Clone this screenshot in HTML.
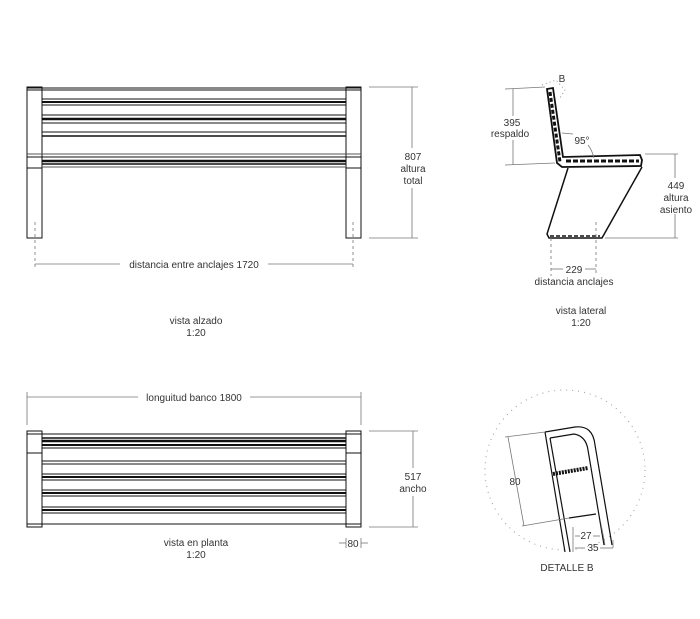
<!DOCTYPE html>
<html><head><meta charset="utf-8"><style>
body{margin:0;background:#fff;}
svg{display:block;font-family:"Liberation Sans",sans-serif;}
text{fill:#333;font-size:10px;text-anchor:middle;}
</style></head><body>
<svg width="700" height="619" viewBox="0 0 700 619" xmlns="http://www.w3.org/2000/svg">
<g stroke="#111" fill="none" stroke-width="1">
<!-- ELEVATION -->
<rect x="27" y="87" width="15" height="151"/>
<rect x="346" y="87" width="15" height="151"/>
<line x1="27" y1="88" x2="361" y2="88"/><line x1="27" y1="90" x2="361" y2="90"/>
<line x1="42" y1="99" x2="346" y2="99"/><line x1="42" y1="102" x2="346" y2="102" stroke-width="2"/><line x1="42" y1="105" x2="346" y2="105"/>
<line x1="42" y1="115" x2="346" y2="115"/><line x1="42" y1="119" x2="346" y2="119" stroke-width="2.5"/><line x1="42" y1="123" x2="346" y2="123"/>
<line x1="42" y1="132" x2="346" y2="132"/><line x1="42" y1="136" x2="346" y2="136" stroke-width="1.5"/>
<line x1="27" y1="154" x2="361" y2="154" stroke="#555"/><line x1="27" y1="157" x2="361" y2="157"/>
<line x1="42" y1="161" x2="346" y2="161" stroke-width="2.5"/><line x1="42" y1="164" x2="346" y2="164" stroke-width="1.5"/><line x1="42" y1="167" x2="346" y2="167" stroke="#555"/>
<line x1="27" y1="168" x2="42" y2="168"/><line x1="346" y1="168" x2="361" y2="168"/>
</g>
<g stroke="#777" fill="none" stroke-width="0.8">
<line x1="35" y1="222" x2="35" y2="268" stroke-dasharray="3,3"/><line x1="353" y1="222" x2="353" y2="268" stroke-dasharray="3,3"/>
<line x1="35" y1="264" x2="120" y2="264"/><line x1="268" y1="264" x2="353" y2="264"/>
<line x1="369" y1="87" x2="418" y2="87"/><line x1="369" y1="238" x2="418" y2="238"/>
<line x1="412" y1="87" x2="412" y2="148"/><line x1="412" y1="188" x2="412" y2="238"/>
</g>
<text x="194" y="268">distancia entre anclajes  1720</text>
<text x="413" y="160">807</text><text x="413" y="172">altura</text><text x="413" y="184">total</text>
<text x="196" y="324">vista alzado</text><text x="196" y="336">1:20</text>

<!-- SIDE -->
<g stroke="#111" fill="none">
<path d="M547,89 L553,88 L563,157 L640,155 L642,160 L641,166 L562,167 L557,163 Z" stroke-width="1.8"/>
<line x1="550" y1="92" x2="560" y2="162" stroke-width="3" stroke-dasharray="4,2"/>
<line x1="566" y1="161" x2="639" y2="161" stroke-width="3" stroke-dasharray="5,2"/>
<path d="M568,168 L547,234 L549,238 L602,238 L642,167" stroke-width="1.5"/>
<line x1="550" y1="236" x2="600" y2="236" stroke-width="1.5" stroke-dasharray="4,2"/>
</g>
<g stroke="#777" fill="none" stroke-width="0.8">
<line x1="505" y1="89" x2="545" y2="87"/><line x1="505" y1="165" x2="555" y2="163"/>
<line x1="513" y1="89" x2="513" y2="116"/><line x1="513" y1="140" x2="513" y2="165"/>
<line x1="645" y1="154" x2="678" y2="154"/><line x1="605" y1="238" x2="678" y2="238"/>
<line x1="675" y1="154" x2="675" y2="178"/><line x1="675" y1="214" x2="675" y2="238"/>
<line x1="551" y1="238" x2="551" y2="276" stroke-dasharray="3,3"/><line x1="596" y1="222" x2="596" y2="276" stroke-dasharray="3,3"/>
<line x1="551" y1="269" x2="563" y2="269"/><line x1="585" y1="269" x2="596" y2="269"/>
<line x1="562" y1="133" x2="573" y2="134"/><path d="M588,145 Q592,150 594,158"/>
<path d="M542,85 L556,80 L565,90 L560,98" stroke-dasharray="1,3"/>
</g>
<text x="562" y="82">B</text><text x="582" y="144">95°</text>
<text x="512" y="126">395</text><text x="510" y="137">respaldo</text>
<text x="676" y="189">449</text><text x="676" y="201">altura</text><text x="676" y="213">asiento</text>
<text x="574" y="273">229</text><text x="574" y="285">distancia anclajes</text>
<text x="581" y="314">vista lateral</text><text x="581" y="326">1:20</text>

<!-- PLAN -->
<g stroke="#111" fill="none" stroke-width="1">
<rect x="27" y="431" width="15" height="96"/><rect x="346" y="431" width="15" height="96"/>
<line x1="27" y1="434" x2="361" y2="434"/><line x1="27" y1="453" x2="42" y2="453"/><line x1="346" y1="453" x2="361" y2="453"/>
<line x1="27" y1="524" x2="361" y2="524"/>
<line x1="42" y1="438" x2="346" y2="438" stroke-width="1.5"/><line x1="42" y1="441" x2="346" y2="441" stroke-width="2.5"/><line x1="42" y1="445" x2="346" y2="445" stroke-width="2"/><line x1="42" y1="448" x2="346" y2="448"/>
<line x1="42" y1="461" x2="346" y2="461"/><line x1="42" y1="464" x2="346" y2="464"/>
<line x1="42" y1="474" x2="346" y2="474"/><line x1="42" y1="477" x2="346" y2="477" stroke-width="2"/><line x1="42" y1="480" x2="346" y2="480"/>
<line x1="42" y1="490" x2="346" y2="490"/><line x1="42" y1="493" x2="346" y2="493" stroke-width="2"/><line x1="42" y1="496" x2="346" y2="496"/>
<line x1="42" y1="507" x2="346" y2="507"/><line x1="42" y1="510" x2="346" y2="510" stroke-width="2"/><line x1="42" y1="513" x2="346" y2="513"/>
</g>
<g stroke="#777" fill="none" stroke-width="0.8">
<line x1="27" y1="392" x2="27" y2="425"/><line x1="361" y1="392" x2="361" y2="425"/>
<line x1="27" y1="397" x2="138" y2="397"/><line x1="250" y1="397" x2="361" y2="397"/>
<line x1="369" y1="431" x2="418" y2="431"/><line x1="369" y1="527" x2="418" y2="527"/>
<line x1="413" y1="431" x2="413" y2="468"/><line x1="413" y1="496" x2="413" y2="527"/>
<line x1="339" y1="543" x2="346" y2="543"/><line x1="361" y1="543" x2="368" y2="543"/>
<line x1="346" y1="538" x2="346" y2="548"/><line x1="361" y1="538" x2="361" y2="548"/>
</g>
<text x="194" y="401">longuitud banco  1800</text>
<text x="413" y="480">517</text><text x="413" y="492">ancho</text>
<text x="353" y="547">80</text>
<text x="196" y="546">vista en planta</text><text x="196" y="558">1:20</text>

<!-- DETAIL -->
<circle cx="565" cy="470" r="80" fill="none" stroke="#999" stroke-width="1" stroke-dasharray="1,5"/>
<g stroke="#111" fill="none" stroke-width="1.2">
<path d="M545,432 L575,427 Q593,425 595,445 L612,545"/>
<path d="M550,438 L574,434 Q586,436 588,450 L604,545"/>
<line x1="545" y1="432" x2="565" y2="552"/><line x1="550" y1="438" x2="570" y2="552"/>
<path d="M569,518 L596,514"/>
<path d="M553,474 L588,468" stroke-width="4" stroke-dasharray="2,1"/>
</g>
<g stroke="#777" fill="none" stroke-width="0.8">
<line x1="505" y1="437" x2="545" y2="432"/><line x1="522" y1="526" x2="569" y2="518"/>
<line x1="508" y1="437" x2="524" y2="526"/>
<line x1="573" y1="527" x2="573" y2="552"/><line x1="601" y1="524" x2="605" y2="545"/><line x1="613" y1="540" x2="613" y2="548"/>
<line x1="575" y1="536" x2="580" y2="536"/><line x1="593" y1="536" x2="600" y2="536"/>
<line x1="575" y1="548" x2="585" y2="548"/><line x1="600" y1="548" x2="613" y2="548"/>
</g>
<text x="515" y="485">80</text><text x="586" y="539">27</text><text x="593" y="551">35</text>
<text x="567" y="571">DETALLE B</text>
</svg>
</body></html>
